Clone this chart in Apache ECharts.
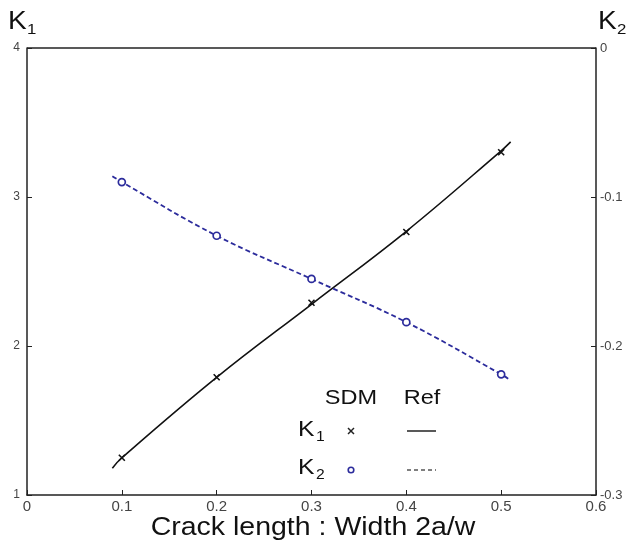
<!DOCTYPE html>
<html>
<head>
<meta charset="utf-8">
<script src="https://cdn.jsdelivr.net/npm/echarts@6/dist/echarts.min.js"></script>
<style>
html, body { margin: 0; padding: 0; background: #fff; }
#main { width: 627px; height: 548px; }
</style>
</head>
<body>
<div id="main"></div>
<script>
// SDM points
var crackRatio = [0.1, 0.2, 0.3, 0.4, 0.5];
var k1Sdm = [1.25, 1.79, 2.29, 2.765, 3.30];
var k2Sdm = [-0.090, -0.126, -0.155, -0.184, -0.219];
// reference curves
var refX = [0.09, 0.1, 0.2, 0.3, 0.4, 0.5, 0.51];
var k1Ref = [1.18, 1.25, 1.79, 2.28, 2.77, 3.31, 3.37];
var k2Ref = [-0.086, -0.090, -0.126, -0.155, -0.184, -0.219, -0.223];

var xTicks = [0, 0.6, 0.1];
var k1Ticks = [1, 4, 1];
var k2Ticks = [-0.3, 0, 0.1];

function pairs(xs, ys) {
    var out = [];
    for (var i = 0; i < xs.length; i++) {
        out.push([xs[i], ys[i]]);
    }
    return out;
}

var blue = '#2c2c9c';
var font = '"Liberation Sans", Arial, sans-serif';
var crossPath = 'path://M0,0L10,10M10,0L0,10';

// text helper, slightly stretched like the picture
function label(txt, x, y, size, align, sx) {
    return {
        type: 'text', x: x, y: y, scaleX: sx || 1.12,
        style: { text: txt, font: size + 'px ' + font, fill: '#111', align: align || 'left', verticalAlign: 'middle' }
    };
}

var myChart = echarts.init(document.getElementById('main'));
var option = {
    backgroundColor: '#fff',
    animation: false,
    textStyle: { fontFamily: font },
    grid: { left: 27, right: 31, top: 48, bottom: 53, containLabel: false },
    xAxis: {
        type: 'value',
        min: xTicks[0], max: xTicks[1], interval: xTicks[2],
        axisLine: { onZero: false, lineStyle: { color: '#222', width: 1.5 } },
        axisTick: { inside: true, length: 5, lineStyle: { color: '#222' } },
        axisLabel: { fontSize: 15, color: '#444', margin: 4 },
        splitLine: { show: false }
    },
    yAxis: [{
        type: 'value',
        position: 'left',
        min: k1Ticks[0], max: k1Ticks[1], interval: k1Ticks[2],
        axisLine: { show: true, onZero: false, lineStyle: { color: '#222', width: 1.5 } },
        axisTick: { show: true, inside: true, length: 5, lineStyle: { color: '#222' } },
        axisLabel: { fontSize: 12, color: '#444', margin: 7 },
        splitLine: { show: false }
    }, {
        type: 'value',
        position: 'right',
        min: k2Ticks[0], max: k2Ticks[1], interval: k2Ticks[2],
        axisLine: { show: true, onZero: false, lineStyle: { color: '#222', width: 1.5 } },
        axisTick: { show: true, inside: true, length: 5, lineStyle: { color: '#222' } },
        axisLabel: { fontSize: 13, color: '#444', margin: 4 },
        splitLine: { show: false }
    }],
    graphic: [
        // top frame line
        { type: 'line', shape: { x1: 27, y1: 48, x2: 596, y2: 48 }, style: { stroke: '#222', lineWidth: 1.5 } },
        // axis titles
        label('K', 8, 22, 25),
        label('1', 27, 30, 15),
        label('K', 598, 22, 25),
        label('2', 617, 30, 15),
        label('Crack length : Width 2a/w', 313, 528, 25, 'center', 1.14),
        // legend
        label('SDM', 351, 398, 21, 'center'),
        label('Ref', 422, 398, 21, 'center'),
        label('K', 298, 430, 22),
        label('1', 316, 437, 14),
        label('K', 298, 468, 22),
        label('2', 316, 475, 14),
        { type: 'polyline', shape: { points: [[348, 428], [354, 434]] }, style: { stroke: '#222', lineWidth: 1.5 } },
        { type: 'polyline', shape: { points: [[354, 428], [348, 434]] }, style: { stroke: '#222', lineWidth: 1.5 } },
        { type: 'circle', shape: { cx: 351, cy: 470, r: 2.8 }, style: { fill: '#fff', stroke: blue, lineWidth: 1.6 } },
        { type: 'line', shape: { x1: 407, y1: 431, x2: 436, y2: 431 }, style: { stroke: '#222', lineWidth: 1.5 } },
        { type: 'line', shape: { x1: 407, y1: 470, x2: 436, y2: 470 }, style: { stroke: '#555', lineWidth: 1.5, lineDash: [4, 3] } }
    ],
    series: [{
        name: 'K1 Ref',
        type: 'line',
        yAxisIndex: 0,
        data: pairs(refX, k1Ref),
        smooth: 0.4,
        showSymbol: false,
        lineStyle: { color: '#111', width: 1.6 },
        z: 2
    }, {
        name: 'K2 Ref',
        type: 'line',
        yAxisIndex: 1,
        data: pairs(refX, k2Ref),
        smooth: 0.4,
        showSymbol: false,
        lineStyle: { color: blue, width: 1.8, type: [5, 3] },
        z: 2
    }, {
        name: 'K1 SDM',
        type: 'scatter',
        yAxisIndex: 0,
        data: pairs(crackRatio, k1Sdm),
        symbol: crossPath,
        symbolSize: 6,
        itemStyle: { color: 'none', borderColor: '#111', borderWidth: 1.6, opacity: 1 },
        z: 3
    }, {
        name: 'K2 SDM',
        type: 'scatter',
        yAxisIndex: 1,
        data: pairs(crackRatio, k2Sdm),
        symbol: 'circle',
        symbolSize: 7,
        itemStyle: { color: '#fff', borderColor: blue, borderWidth: 1.7, opacity: 1 },
        z: 3
    }]
};
myChart.setOption(option);
</script>
</body>
</html>
